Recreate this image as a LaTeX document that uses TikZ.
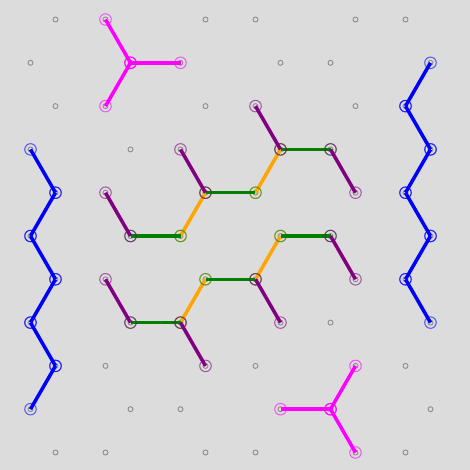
\documentclass[tikz,border=0pt]{standalone}
\usepackage{tikz}

\definecolor{bggrey}{RGB}{220,220,220}
\definecolor{sitegrey}{RGB}{140,140,140}
\definecolor{armmagenta}{RGB}{255,0,255}
\definecolor{edgeblue}{RGB}{0,0,255}
\definecolor{chainpurple}{RGB}{128,0,128}
\definecolor{chaingreen}{RGB}{0,128,0}
\definecolor{chainorange}{RGB}{255,165,0}

\tikzset{
    site/.style={circle, draw=sitegrey, line width=0.5pt, inner sep=0pt, minimum size=0.1cm},
    bondline/.style={line width=2pt},
    endring/.style={line width=0.6pt, opacity=0.6}
}

\newcommand{\bond}[3]{%
    \draw[bondline, #1] (#2.center) -- (#3.center);
    \draw[endring, #1] (#2.center) circle (0.115) (#3.center) circle (0.115);%
}

\begin{document}
\begin{tikzpicture}
    \fill[bggrey] (0,0) rectangle (9.4,-9.4);
    \useasboundingbox (0,0) rectangle (9.4,-9.4);
    \foreach \k in {0,2,...,10} {
        \foreach \c in {2,4,8,10,14,16} {
            \node[site] (v\c-\k) at ({0.11+0.5*\c},{-0.39-0.866*\k}) {};
        }
    }
    \foreach \k in {1,3,...,9} {
        \foreach \c in {1,5,7,11,13,17} {
            \node[site] (v\c-\k) at ({0.11+0.5*\c},{-0.39-0.866*\k}) {};
        }
    }
    % three-armed pieces
    \bond{armmagenta}{v5-1}{v4-0}
    \bond{armmagenta}{v5-1}{v7-1}
    \bond{armmagenta}{v5-1}{v4-2}
    \bond{armmagenta}{v13-9}{v14-8}
    \bond{armmagenta}{v13-9}{v11-9}
    \bond{armmagenta}{v13-9}{v14-10}
    % zigzag edges
    \bond{edgeblue}{v1-3}{v2-4}
    \bond{edgeblue}{v2-4}{v1-5}
    \bond{edgeblue}{v1-5}{v2-6}
    \bond{edgeblue}{v2-6}{v1-7}
    \bond{edgeblue}{v1-7}{v2-8}
    \bond{edgeblue}{v2-8}{v1-9}
    \bond{edgeblue}{v17-1}{v16-2}
    \bond{edgeblue}{v16-2}{v17-3}
    \bond{edgeblue}{v17-3}{v16-4}
    \bond{edgeblue}{v16-4}{v17-5}
    \bond{edgeblue}{v17-5}{v16-6}
    \bond{edgeblue}{v16-6}{v17-7}
    % slanted links
    \bond{chainorange}{v11-3}{v10-4}
    \bond{chainorange}{v8-4}{v7-5}
    \bond{chainorange}{v11-5}{v10-6}
    \bond{chainorange}{v8-6}{v7-7}
    % horizontal links
    \bond{chaingreen}{v11-3}{v13-3}
    \bond{chaingreen}{v10-4}{v8-4}
    \bond{chaingreen}{v7-5}{v5-5}
    \bond{chaingreen}{v11-5}{v13-5}
    \bond{chaingreen}{v10-6}{v8-6}
    \bond{chaingreen}{v7-7}{v5-7}
    % side arms
    \bond{chainpurple}{v10-2}{v11-3}
    \bond{chainpurple}{v13-3}{v14-4}
    \bond{chainpurple}{v8-4}{v7-3}
    \bond{chainpurple}{v5-5}{v4-4}
    \bond{chainpurple}{v13-5}{v14-6}
    \bond{chainpurple}{v10-6}{v11-7}
    \bond{chainpurple}{v5-7}{v4-6}
    \bond{chainpurple}{v7-7}{v8-8}
\end{tikzpicture}
\end{document}
